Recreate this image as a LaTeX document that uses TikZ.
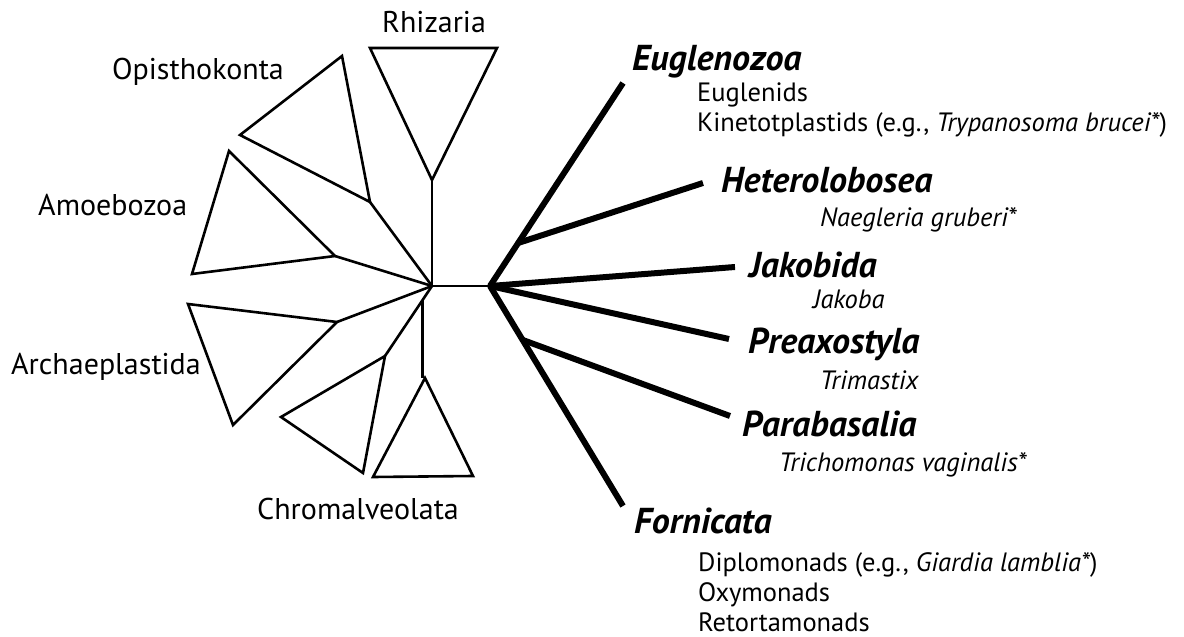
\documentclass[tikz,border=0pt]{standalone}
\usepackage{fontspec}
\setmainfont{PT Sans}
\usepackage{tikz}
\usetikzlibrary{positioning}

\tikzset{
  thinbranch/.style={line width=2.6pt, line join=miter},
  thickbranch/.style={line width=6pt},
  supergroup/.style={anchor=base west, inner sep=0pt, font=\fontsize{30}{35}\selectfont},
  cladename/.style={anchor=base west, inner sep=0pt, font=\fontsize{36}{41}\selectfont\bfseries\itshape},
  member/.style={anchor=base west, inner sep=0pt, font=\fontsize{26.5}{31}\selectfont},
}

\begin{document}
\begin{tikzpicture}[x=1pt, y=-1pt]
  \useasboundingbox (0,0) rectangle (1184,637);

  % tree nodes
  \coordinate (root) at (432,286);
  \coordinate (hub) at (490,286);

  % left side: collapsed supergroups
  \coordinate (rhiz) at (432,180);
  \coordinate (rhizA) at (370,48);
  \coordinate (rhizB) at (497,48);
  \coordinate (opis) at (370,202);
  \coordinate (opisA) at (240,135);
  \coordinate (opisB) at (342,56);
  \coordinate (amoe) at (335,256);
  \coordinate (amoeA) at (229,151);
  \coordinate (amoeB) at (192,274);
  \coordinate (arch) at (337,322);
  \coordinate (archA) at (188,304);
  \coordinate (archB) at (233,425);
  \coordinate (chromL) at (385,356);
  \coordinate (chromLA) at (281,417);
  \coordinate (chromLB) at (363,473);
  \coordinate (chromR) at (425,378);
  \coordinate (chromRA) at (373,477);
  \coordinate (chromRB) at (473,476);

  \draw[thinbranch] (root) -- (hub);
  \draw[thinbranch] (root) -- (rhiz);
  \draw[thinbranch] (rhiz) -- (rhizA) -- (rhizB) -- cycle;
  \draw[thinbranch] (root) -- (opis);
  \draw[thinbranch] (opis) -- (opisA) -- (opisB) -- cycle;
  \draw[thinbranch] (root) -- (amoe);
  \draw[thinbranch] (amoe) -- (amoeA) -- (amoeB) -- cycle;
  \draw[thinbranch] (root) -- (arch);
  \draw[thinbranch] (arch) -- (archA) -- (archB) -- cycle;
  \draw[thinbranch] (root) -- coordinate[pos=0.2] (chrom) (chromL);
  \draw[thinbranch] (chromL) -- (chromLA) -- (chromLB) -- cycle;
  \draw[thinbranch] (chrom) -- (chrom |- chromR);
  \draw[thinbranch] (chromR) -- (chromRA) -- (chromRB) -- cycle;

  \node[supergroup] (rhizaria) at (382,32) {Rhizaria};
  \node[supergroup] (opisthokonta) at (112,79) {Opisthokonta};
  \node[supergroup] (amoebozoa) at (38,215) {Amoebozoa};
  \node[supergroup] (archaeplastida) at (11,374) {Archaeplastida};
  \node[supergroup] (chromalveolata) at (257,519) {Chromalveolata};

  % right side: excavates
  \coordinate (eugTip) at (623,83);
  \coordinate (hetTip) at (703,183);
  \coordinate (jakTip) at (735,267);
  \coordinate (preTip) at (729,339);
  \coordinate (parTip) at (730,416);
  \coordinate (forTip) at (623,506);

  \draw[thickbranch] (hub) -- coordinate[pos=0.212] (eugHet) (eugTip);
  \draw[thickbranch] (eugHet) -- (hetTip);
  \draw[thickbranch] (hub) -- (jakTip);
  \draw[thickbranch] (hub) -- (preTip);
  \draw[thickbranch] (hub) -- coordinate[pos=0.245] (forPar) (forTip);
  \draw[thickbranch] (forPar) -- (parTip);

  \node[cladename] (euglenozoa) at (632,70) {Euglenozoa};
  \node[member] (euglenids) at (697,101) {Euglenids};
  \node[member] (kineto) at (697,131) {Kinetotplastids (e.g., \textit{Trypanosoma brucei*})};

  \node[cladename] (heterolobosea) at (721,192) {Heterolobosea};
  \node[member] (naegleria) at (820,226) {\textit{Naegleria gruberi*}};

  \node[cladename] (jakobida) at (749,277) {Jakobida};
  \node[member] (jakoba) at (813,308) {\textit{Jakoba}};

  \node[cladename] (preaxostyla) at (748,353) {Preaxostyla};
  \node[member] (trimastix) at (820,389) {\textit{Trimastix}};

  \node[cladename] (parabasalia) at (742,436) {Parabasalia};
  \node[member] (trichomonas) at (779,471) {\textit{Trichomonas vaginalis*}};

  \node[cladename] (fornicata) at (634,533) {Fornicata};
  \node[member] (diplomonads) at (698,571) {Diplomonads (e.g., \textit{Giardia lamblia*})};
  \node[member] (oxymonads) at (698,601) {Oxymonads};
  \node[member] (retortamonads) at (698,631) {Retortamonads};
\end{tikzpicture}
\end{document}
